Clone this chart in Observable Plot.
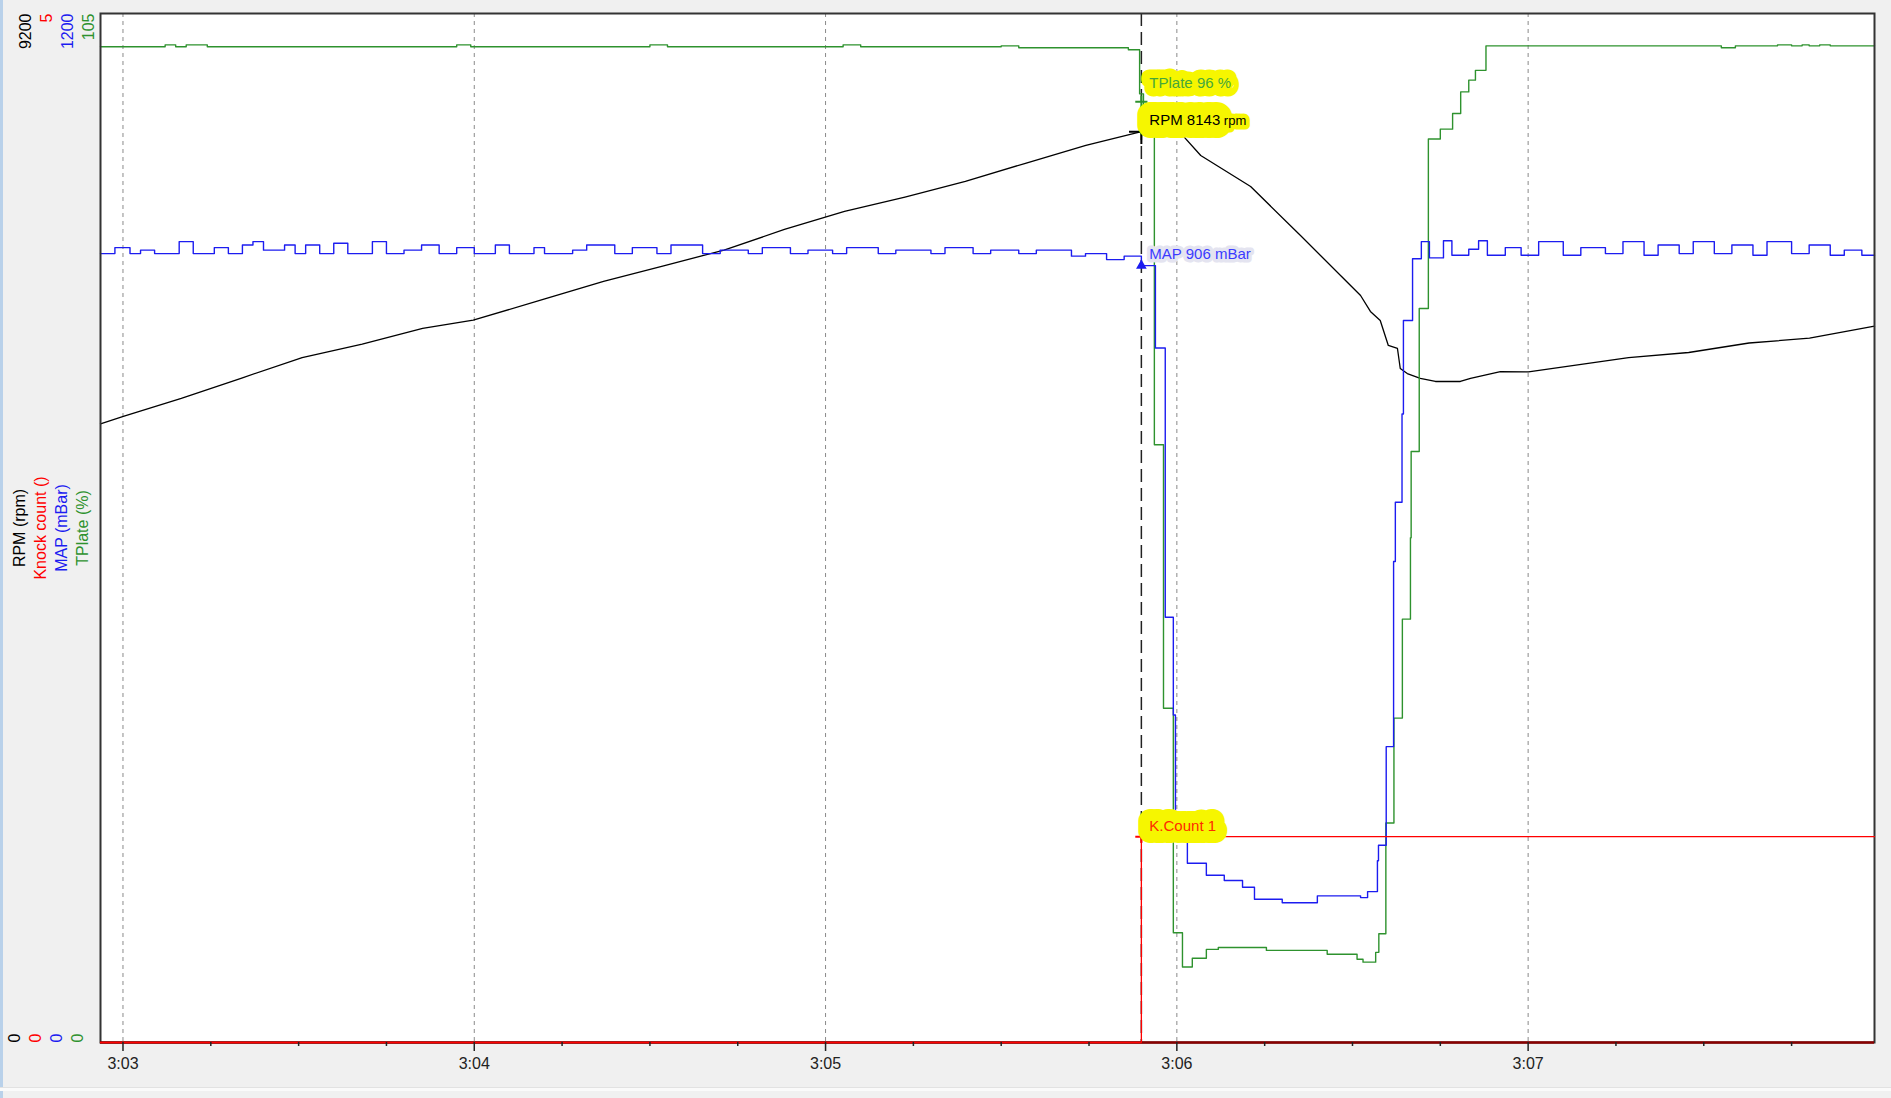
<!DOCTYPE html>
<html><head><meta charset="utf-8">
<script src="https://cdn.jsdelivr.net/npm/d3@7"></script>
<script src="https://cdn.jsdelivr.net/npm/@observablehq/plot@0.6"></script>
<style>
html,body{margin:0;padding:0;background:#f0f0f0;overflow:hidden}
#wrap{position:relative;width:1891px;height:1098px}
#chart svg{display:block}
.chrome-left{position:absolute;left:0;top:0;width:3px;height:1098px;background:#b9d1ea}
.chrome-bottom{position:absolute;left:0;top:1087px;width:1891px;height:3px;background:#fafafa;border-top:1px solid #e2e2e2}
</style></head>
<body><div id="wrap"><div id="chart"></div><div class="chrome-left"></div><div class="chrome-bottom"></div></div>
<script>
// ---- axis definitions ----
const axisNames = ["RPM (rpm)", "Knock count ()", "MAP (mBar)", "TPlate (%)"];
const axisMaxLabels = ["9200", "5", "1200", "105"];
const axisMinLabels = ["0", "0", "0", "0"];
const axisMax = [9200, 5, 1200, 105];
const axisMin = [0, 0, 0, 0];
const xTicks = [183, 184, 185, 186, 187];
const xTickLabels = ["3:03", "3:04", "3:05", "3:06", "3:07"];
const xDomain = [182.936, 187.986];

// ---- cursor read-out ----
const cursorTime = 185.899;
const cursorLabels = ["TPlate 96 %", "RPM 8143 rpm", "MAP 906 mBar", "K.Count 1"];
const cursorValues = [96, 8143, 906, 1];

// ---- series (time in s, values) ----
const rpmTime = [182.936,183.001,183.166,183.338,183.510,183.681,183.853,183.997,184.196,184.368,184.539,184.711,184.883,185.054,185.226,185.398,185.569,185.741,185.899,186.005,186.068,186.210,186.352,186.409,186.523,186.551,186.579,186.602,186.628,186.636,186.656,186.693,186.736,186.807,186.836,186.921,187.001,187.286,187.457,187.629,187.801,187.986];
const rpmValue = [5532,5597,5758,5941,6124,6243,6384,6459,6643,6804,6944,7085,7269,7430,7558,7698,7861,8022,8143,8150,7930,7653,7215,7036,6679,6536,6455,6232,6205,6026,5981,5937,5910,5910,5937,5999,5996,6124,6169,6254,6297,6405];

const knockTime = [182.936, 185.899, 187.986];
const knockValue = [0, 1, 1];

const mapTime = [182.936,182.977,183.02,183.05,183.09,183.16,183.2,183.26,183.30,183.34,183.37,183.40,183.46,183.49,183.52,183.56,183.6,183.64,183.71,183.75,183.8,183.85,183.9,183.95,184.0,184.06,184.1,184.17,184.2,184.28,184.32,184.4,184.45,184.52,184.56,184.65,184.7,184.78,184.82,184.9,184.95,185.02,185.06,185.15,185.2,185.3,185.34,185.42,185.47,185.55,185.6,185.7,185.74,185.8,185.85,185.899,185.939,185.967,185.990,185.996,186.018,186.030,186.084,186.135,186.187,186.221,186.300,186.400,186.480,186.523,186.543,186.571,186.574,186.596,186.617,186.622,186.641,186.645,186.671,186.696,186.719,186.759,186.783,186.831,186.859,186.884,186.935,186.98,187.03,187.1,187.15,187.22,187.27,187.33,187.37,187.43,187.47,187.53,187.58,187.64,187.68,187.75,187.8,187.86,187.9,187.95];
const mapValue = [920,927,920,924,920,934,920,927,920,930,934,924,930,920,930,920,932,920,934,920,924,930,920,927,920,930,920,927,920,924,930,920,927,920,930,920,924,920,927,920,924,920,927,920,924,920,927,920,924,920,924,917,920,913,917,906,810,496,382,265,236,209,195,189,181,167,163,171,171,169,176,212,230,345,561,630,733,842,914,934,915,935,918,925,935,918,927,918,934,918,927,920,934,918,930,920,934,920,930,918,934,920,930,918,924,918];

const tpTime = [182.936,183.12,183.15,183.18,183.24,183.95,183.99,184.5,184.55,185.05,185.1,185.5,185.55,185.862,185.894,185.905,185.936,185.962,185.990,186.016,186.044,186.084,186.118,186.255,186.428,186.513,186.530,186.566,186.575,186.595,186.618,186.642,186.665,186.667,186.690,186.716,186.750,186.785,186.808,186.831,186.850,186.880,187.55,187.59,187.71,187.75,187.78,187.80,187.83,187.86];
const tpValue = [101.6,101.8,101.6,101.8,101.6,101.8,101.6,101.8,101.6,101.8,101.6,101.7,101.5,101.3,96.8,93.2,61.0,34.1,11.2,7.7,8.6,9.5,9.7,9.4,9.0,8.5,8.2,9.2,11.1,22.4,33.1,43.2,51.5,60.3,74.9,92.2,93.2,94.8,97.0,98.2,99.2,101.7,101.5,101.7,101.8,101.7,101.8,101.7,101.8,101.7];

// ---- styles ----
const colors = ["#000000", "#ff0000", "#1c1cf0", "#2e922e"];
const font = "'Liberation Sans', Arial, sans-serif";

const norm = (times, values, i) => times.map((t, k) => ({t, y: (values[k] - axisMin[i]) / (axisMax[i] - axisMin[i])}));
const rpm = norm(rpmTime, rpmValue, 0);
const knock = norm(knockTime, knockValue, 1);
const map = norm(mapTime, mapValue, 2);
const tp = norm(tpTime, tpValue, 3);
const extend = (rows) => rows.concat([{t: xDomain[1], y: rows[rows.length - 1].y}]);

const minorTicks = d3.range(Math.ceil(xDomain[0] * 4) / 4, xDomain[1], 0.25).filter(v => Math.abs(v - Math.round(v)) > 1e-6);
const fmt = (v) => xTickLabels[xTicks.indexOf(v)];

const colDx = [-81, -60, -39, -18];
const sideMarks = [];
for (let i = 0; i < 4; i++) {
  sideMarks.push(Plot.text([axisMaxLabels[i]], {frameAnchor: "top-left", dx: colDx[i], rotate: -90, textAnchor: "end", fill: colors[i], fontSize: 16}));
  sideMarks.push(Plot.text([axisMinLabels[i]], {frameAnchor: "bottom-left", dx: colDx[i], rotate: -90, textAnchor: "start", fill: colors[i], fontSize: 16}));
  sideMarks.push(Plot.text([axisNames[i]], {frameAnchor: "left", dx: colDx[i], rotate: -90, textAnchor: "middle", fill: colors[i], fontSize: 16}));
}

// cursor annotations: order TPlate, RPM, MAP, K.Count
const seriesIndexOfLabel = [3, 0, 2, 1];
const annot = cursorLabels.map((label, j) => {
  const i = seriesIndexOfLabel[j];
  return {t: cursorTime, y: (cursorValues[j] - axisMin[i]) / (axisMax[i] - axisMin[i]), label};
});
const labelStyle = [
  {dy: -19, fill: "#45a83a", halo: "#f6f600", hw: 17},
  {dy: -12, fill: "#000000", halo: "#f6f600", hw: 26},
  {dy: -11, fill: "#3b3bff", halo: "#e4e4f0", hw: 7},
  {dy: -11, fill: "#ff2a00", halo: "#f6f600", hw: 24}
];
const annotText = annot.map((a, j) => Plot.text([a], {
  x: "t", y: "y", text: "label", dx: 8, dy: labelStyle[j].dy, textAnchor: "start", fontSize: 15,
  fill: labelStyle[j].fill, stroke: labelStyle[j].halo, strokeWidth: labelStyle[j].hw, strokeLinejoin: "round", paintOrder: "stroke"
}));

const chart = Plot.plot({
  width: 1891,
  height: 1098,
  marginLeft: 100,
  marginTop: 13,
  marginRight: 17,
  marginBottom: 56,
  style: {background: "#f0f0f0", fontFamily: font, fontSize: "16px", color: "#222"},
  x: {domain: xDomain, axis: null},
  y: {domain: [0, 1], axis: null},
  marks: [
    Plot.frame({fill: "white", stroke: "none"}),
    Plot.ruleX(xTicks, {stroke: "#8a8a8a", strokeDasharray: "4,4", strokeWidth: 1}),
    Plot.ruleX([cursorTime], {stroke: "#222", strokeDasharray: "13,6", strokeWidth: 1.5}),
    Plot.line(extend(rpm), {x: "t", y: "y", stroke: colors[0], strokeWidth: 1.3}),
    Plot.line(extend(tp), {x: "t", y: "y", stroke: colors[3], strokeWidth: 1.4, curve: "step-after"}),
    Plot.line(extend(map), {x: "t", y: "y", stroke: colors[2], strokeWidth: 1.4, curve: "step-after"}),
    Plot.frame({stroke: "#333", strokeWidth: 2}),
    Plot.ruleY([0], {stroke: "#8a0000", strokeWidth: 2.5}),
    Plot.line(knock, {x: "t", y: "y", stroke: colors[1], strokeWidth: 1.3, curve: "step-after"}),
    Plot.axisX(minorTicks, {tickSize: 4, tickFormat: () => "", strokeWidth: 1.5, label: null}),
    Plot.axisX(xTicks, {tickSize: 9, tickFormat: () => "", strokeWidth: 1.5, label: null}),
    Plot.text(xTicks, {x: d => d, text: fmt, frameAnchor: "bottom", dy: 26, fontSize: 16, fill: "#222"}),
    ...sideMarks,
    Plot.dot([annot[1]], {x: "t", y: "y", symbol: "plus", r: 8, stroke: "#000", strokeWidth: 2}),
    Plot.dot([annot[0]], {x: "t", y: "y", symbol: "plus", r: 4, stroke: colors[3], strokeWidth: 2}),
    Plot.dot([annot[2]], {x: "t", y: "y", symbol: "triangle", r: 3, fill: colors[2], stroke: colors[2]}),
    Plot.dot([annot[3]], {x: "t", y: "y", symbol: "plus", r: 4, stroke: colors[1], strokeWidth: 2}),
    ...annotText
  ]
});
document.getElementById("chart").appendChild(chart);
// make the "rpm" unit of the RPM read-out a little smaller, as in the logger display
chart.querySelectorAll("text").forEach(el => {
  const s = el.textContent;
  if (s === cursorLabels[1]) {
    const cut = s.lastIndexOf(" ");
    el.textContent = s.slice(0, cut);
    const ts = document.createElementNS("http://www.w3.org/2000/svg", "tspan");
    ts.setAttribute("font-size", "13");
    ts.setAttribute("stroke-width", "9");
    ts.textContent = s.slice(cut);
    el.appendChild(ts);
  }
});
</script>
</body></html>
